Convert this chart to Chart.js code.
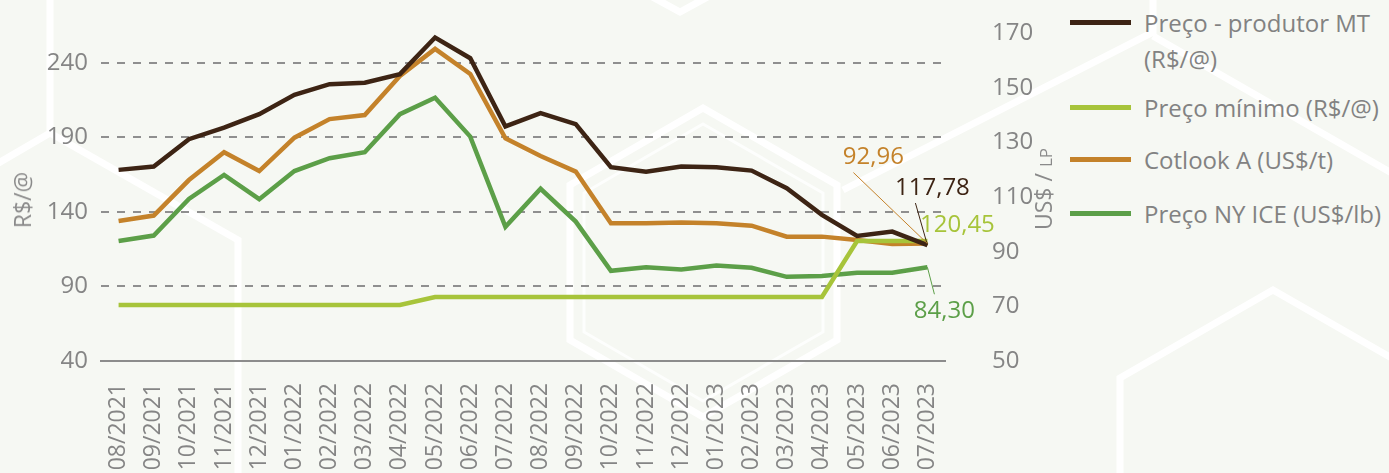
<!DOCTYPE html>
<html lang="pt-BR">
<head>
<meta charset="utf-8">
<title>Preços do algodão</title>
<script src="https://cdn.jsdelivr.net/npm/chart.js@4.4.0/dist/chart.umd.min.js"></script>
<style>
html, body { margin: 0; padding: 0; }
body {
    width: 1389px; height: 473px; overflow: hidden; position: relative;
    background: #f6f8f3; font-family: 'Open Sans', sans-serif;
}
#bg { position: absolute; left: 0; top: 0; }
#wrap { position: absolute; left: 0; top: 0; width: 1060px; height: 473px; }
.axis-title {
    position: absolute; color: #8a8a8a; font-size: 23px; white-space: nowrap;
    transform: translate(-50%, -50%) rotate(-90deg);
}
.axis-title small { font-size: 17px; }
#legend { position: absolute; left: 1070px; top: 0; }
.item { position: absolute; left: 0; height: 36px; }
.swatch { position: absolute; left: 0; top: 15px; width: 61px; height: 5px; }
.label {
    position: absolute; left: 74px; top: 0; width: 255px;
    font-size: 24px; line-height: 36px; color: #828282;
}
</style>
</head>
<body>
<svg id="bg" width="1389" height="473">
    <g fill="none" stroke="#ffffff" stroke-width="7">
        <polyline points="50,0 50,133 238,240 238,480"/>
        <polyline points="50,133 -5,165"/>
        <polyline points="612,-25 680,12 748,-25"/>
        <polygon points="703,108 837,185 837,340 703,417 570,340 570,185"/>
        <polyline points="843,190 1153,32 1153,-5"/>
        <polyline points="1153,36 1395,175"/>
        <polyline points="1120,480 1120,378 1273,290 1395,360"/>
    </g>
    <g fill="none" stroke="#ffffff" stroke-width="3" opacity="0.8">
        <polygon points="703,124 823,193 823,332 703,401 584,332 584,193"/>
    </g>
</svg>

<div id="wrap"><canvas id="chart"></canvas></div>

<div class="axis-title" style="left:22px; top:200px;">R$/@</div>
<div class="axis-title" style="left:1043px; top:189px;">US$ / <small>LP</small></div>

<div id="legend"></div>

<script>
const months = ['08/2021', '09/2021', '10/2021', '11/2021', '12/2021', '01/2022', '02/2022', '03/2022',
    '04/2022', '05/2022', '06/2022', '07/2022', '08/2022', '09/2022', '10/2022', '11/2022',
    '12/2022', '01/2023', '02/2023', '03/2023', '04/2023', '05/2023', '06/2023', '07/2023'];

// R$/@ (eixo esquerdo)
const produtorMT = [168.2, 170.4, 188.8, 196.6, 205.6, 218.5, 225.7, 226.6, 232.4, 257.0, 243.1, 197.3,
    206.2, 198.9, 170.0, 167.0, 170.4, 170.0, 167.7, 155.9, 138.0, 123.9, 126.8, 117.78];
const precoMinimo = [77.6, 77.6, 77.6, 77.6, 77.6, 77.6, 77.6, 77.6, 77.6, 82.9, 82.9, 82.9,
    82.9, 82.9, 82.9, 82.9, 82.9, 82.9, 82.9, 82.9, 82.9, 120.45, 120.45, 120.45];

// US$ (eixo direito)
const cotlookA = [101.2, 103.2, 116.2, 126.4, 119.5, 131.7, 138.5, 140.0, 154.3, 164.2, 155.0, 131.5,
    125.0, 119.3, 100.4, 100.4, 100.7, 100.4, 99.5, 95.5, 95.5, 94.3, 92.8, 92.96];
const nyIce = [93.9, 95.9, 109.3, 118.1, 109.2, 119.5, 124.2, 126.4, 140.3, 146.3, 132.1, 99.1,
    113.0, 101.0, 83.0, 84.3, 83.5, 84.9, 84.1, 80.8, 81.1, 82.3, 82.3, 84.30];

const leftTicks = [40, 90, 140, 190, 240];
const rightTicks = [50, 70, 90, 110, 130, 150, 170];

const seriesNames = ['Preço - produtor MT (R$/@)', 'Preço mínimo (R$/@)', 'Cotlook A (US$/t)', 'Preço NY ICE (US$/lb)'];
const seriesColors = ['#3d2414', '#a7c43a', '#c4822a', '#5c9f48'];

const gray = '#858585';
Chart.defaults.font.family = "'Open Sans', sans-serif";

// legenda em HTML (o primeiro item quebra em duas linhas)
const legendTops = [5, 90, 142, 196];
const legend = document.getElementById('legend');
seriesNames.forEach((name, i) => {
    const item = document.createElement('div');
    item.className = 'item';
    item.style.top = legendTops[i] + 'px';
    item.innerHTML = `<div class="swatch" style="background:${seriesColors[i]}"></div><div class="label">${name}</div>`;
    legend.appendChild(item);
});

// rótulo do último valor de cada série, com linha de chamada
const endLabels = [
    { dx: 5, dy: -57, lead: [-12, -42] },
    { dx: 30, dy: -16, lead: null },
    { dx: -54, dy: -86, lead: [-74, -71] },
    { dx: 17, dy: 44, lead: [7, 27] }
];

const endLabelPlugin = {
    id: 'endLabels',
    afterDatasetsDraw(chart) {
        const ctx = chart.ctx;
        ctx.save();
        chart.data.datasets.forEach((ds, i) => {
            const meta = chart.getDatasetMeta(i);
            const pt = meta.data[meta.data.length - 1];
            const value = ds.data[ds.data.length - 1];
            const cfg = endLabels[i];
            if (cfg.lead) {
                ctx.strokeStyle = ds.borderColor;
                ctx.lineWidth = 1;
                ctx.beginPath();
                ctx.moveTo(pt.x, pt.y);
                ctx.lineTo(pt.x + cfg.lead[0], pt.y + cfg.lead[1]);
                ctx.stroke();
            }
            ctx.fillStyle = ds.borderColor;
            ctx.font = "24px 'Open Sans', sans-serif";
            ctx.textAlign = 'center';
            ctx.textBaseline = 'middle';
            ctx.fillText(value.toFixed(2).replace('.', ','), pt.x + cfg.dx, pt.y + cfg.dy);
        });
        ctx.restore();
    }
};

function makeDataset(i, data, axis) {
    return {
        label: seriesNames[i],
        data: data,
        yAxisID: axis,
        borderColor: seriesColors[i],
        backgroundColor: seriesColors[i],
        borderWidth: 4.5,
        pointRadius: 0,
        tension: 0,
        fill: false
    };
}

new Chart(document.getElementById('chart'), {
    type: 'line',
    data: {
        labels: months,
        datasets: [
            makeDataset(0, produtorMT, 'y'),
            makeDataset(1, precoMinimo, 'y'),
            makeDataset(2, cotlookA, 'y1'),
            makeDataset(3, nyIce, 'y1')
        ]
    },
    options: {
        responsive: true,
        maintainAspectRatio: false,
        animation: false,
        layout: { padding: { top: 33, left: 0, right: 0, bottom: 0 } },
        plugins: {
            legend: { display: false },
            tooltip: { enabled: false }
        },
        scales: {
            x: {
                offset: true,
                grid: { display: false, drawTicks: false },
                border: { display: true, color: '#8c8c8c', width: 2 },
                ticks: {
                    color: gray,
                    font: { size: 23 },
                    minRotation: 90,
                    maxRotation: 90,
                    autoSkip: false,
                    padding: 22
                },
                afterFit(scale) { scale.height = 112; }
            },
            y: {
                position: 'left',
                min: 40,
                max: 260,
                afterBuildTicks(scale) { scale.ticks = leftTicks.map(v => ({ value: v })); },
                grid: {
                    drawTicks: false,
                    lineWidth: 2,
                    color: ctx => (ctx.tick && ctx.tick.value === 40) ? 'rgba(0,0,0,0)' : '#8f8f8f'
                },
                border: { display: false, dash: [8, 8] },
                ticks: { color: gray, font: { size: 24 }, padding: 13 },
                afterFit(scale) {
                    scale.width = 101;
                    scale.paddingTop = 0;
                    scale.paddingBottom = 0;
                }
            },
            y1: {
                position: 'right',
                min: 50,
                max: 170,
                afterBuildTicks(scale) { scale.ticks = rightTicks.map(v => ({ value: v })); },
                grid: { drawOnChartArea: false, drawTicks: false },
                border: { display: false },
                ticks: { color: gray, font: { size: 24 }, padding: 47 },
                afterFit(scale) {
                    // the big label padding must not push the plot area down
                    scale.width = 115;
                    scale.paddingTop = 0;
                    scale.paddingBottom = 0;
                }
            }
        }
    },
    plugins: [endLabelPlugin]
});
</script>
</body>
</html>
